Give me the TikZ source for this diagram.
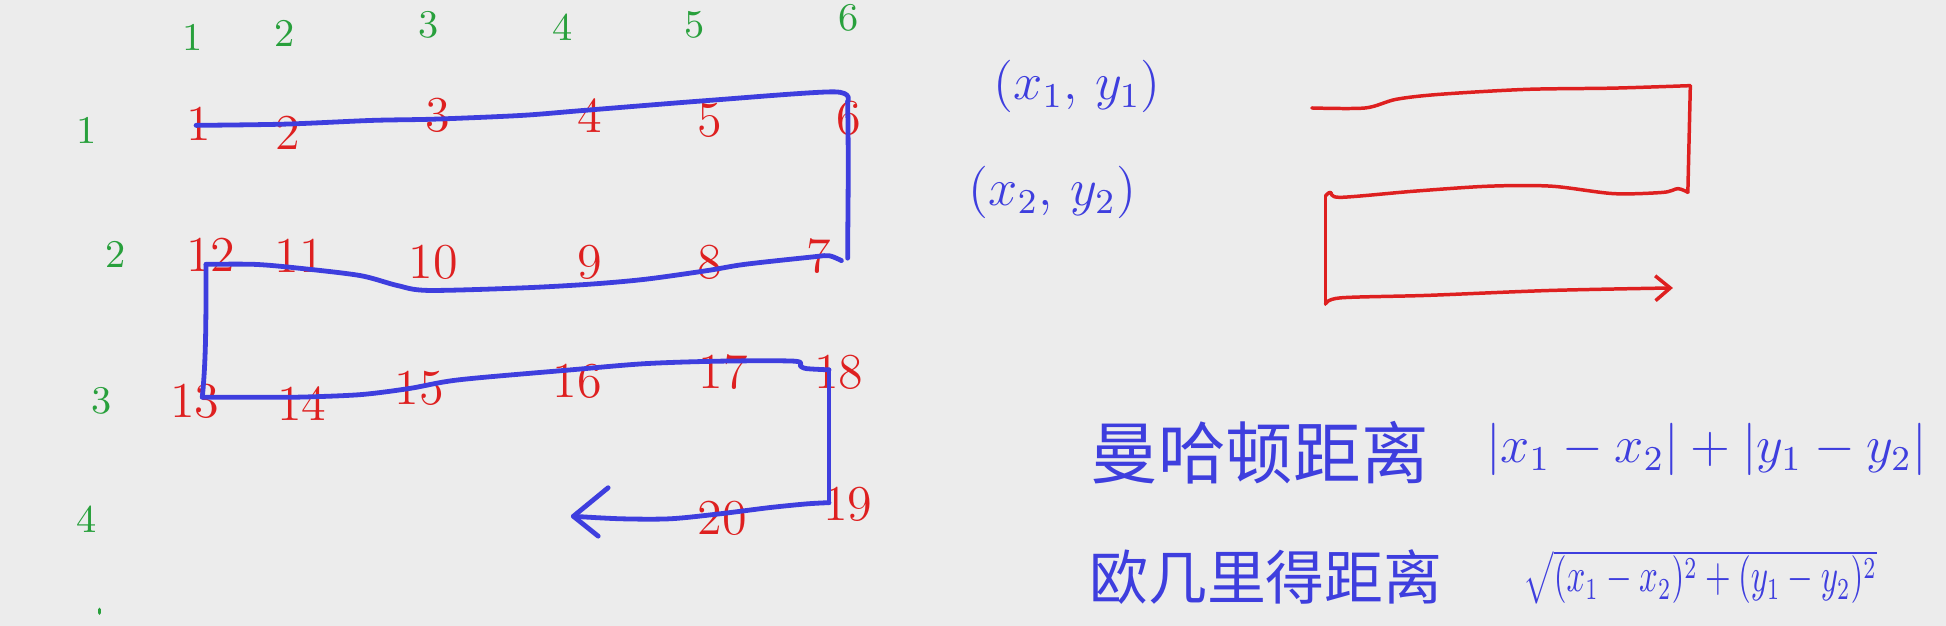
\documentclass[tikz,border=0pt]{standalone}
\usepackage{fontspec}
\usepackage{graphicx}
\newfontfamily\cjk{Noto Sans CJK SC}
\usetikzlibrary{arrows.meta}
\definecolor{bg}{RGB}{236,236,236}
\definecolor{hred}{RGB}{222,32,32}
\definecolor{hblue}{RGB}{62,62,222}
\definecolor{hgreen}{RGB}{40,160,60}
\begin{document}
\begin{tikzpicture}[x=0.1mm,y=-0.1mm,
  gnum/.style={text=hgreen,font=\fontsize{9}{10}\selectfont,inner sep=0},
  rnum/.style={text=hred,font=\fontsize{11.5}{12}\selectfont,inner sep=0},
  bpath/.style={draw=hblue,line width=1.1pt,line cap=round,line join=round},
  rpath/.style={draw=hred,line width=0.8pt,line cap=round,line join=round},
  btext/.style={text=hblue,inner sep=0}]
\fill[bg] (0,0) rectangle (1568,504);
\useasboundingbox (0,0) rectangle (1568,504);
% green headers
\node[gnum] (c1) at (155,30) {1};
\node[gnum] (c2) at (229,27) {2};
\node[gnum] (c3) at (345,20) {3};
\node[gnum] (c4) at (453,22) {4};
\node[gnum] (c5) at (560,20) {5};
\node[gnum] (c6) at (684,14) {6};
\node[gnum] (r1) at (70,105) {1};
\node[gnum] (r2) at (93,205) {2};
\node[gnum] (r3) at (82,323) {3};
\node[gnum] (r4) at (70,418) {4};
\draw[hgreen,line width=0.8pt,line cap=round] (80,491) -- (80,494);
% red numbers
\node[rnum] (n1) at (160,100) {1};
\node[rnum] (n2) at (232,107) {2};
\node[rnum] (n3) at (353,93) {3};
\node[rnum] (n4) at (475,93) {4};
\node[rnum] (n5) at (572,97) {5};
\node[rnum] (n6) at (684,95) {6};
\node[rnum] (n12) at (170,205) {12};
\node[rnum] (n11) at (241,206) {11};
\node[rnum] (n10) at (349,211) {10};
\node[rnum] (n9) at (475,211) {9};
\node[rnum] (n8) at (572,211) {8};
\node[rnum] (n7) at (660,206) {7};
\node[rnum] (n13) at (157,323) {13};
\node[rnum] (n14) at (243,325) {14};
\node[rnum] (n15) at (338,313) {15};
\node[rnum] (n16) at (465,307) {16};
\node[rnum] (n17) at (583,300) {17};
\node[rnum] (n18) at (676,300) {18};
\node[rnum] (n19) at (683,406) {19};
\node[rnum] (n20) at (582,418) {20};
% blue snake path
\coordinate (p1) at (158,101);
\coordinate (p6) at (683,82);
\coordinate (p7) at (683,208);
\coordinate (p12) at (166,213);
\coordinate (p13) at (163,320);
\coordinate (p18) at (668,298);
\coordinate (p19) at (668,405);
\coordinate (tip) at (462,416);
\draw[bpath] plot[smooth,tension=0.5] coordinates {(p1) (230,100) (300,97) (350,96) (420,93) (470,89) (570,81) (672,74) (p6)};
\draw[bpath] (p6) .. controls (684,140) and (683,180) .. (p7);
\draw[bpath] plot[smooth,tension=0.5] coordinates {(678,210) (668,206) (655,207) (600,213) (570,218) (520,225) (475,229) (420,232) (345,234) (320,230) (290,222) (240,216) (205,213) (p12)};
\draw[bpath] (p12) .. controls (166,260) and (166,290) .. (p13);
\draw[bpath] plot[smooth,tension=0.5] coordinates {(p13) (200,320) (240,320) (290,318) (330,313) (370,306) (460,298) (520,293) (580,291) (640,291) (645,295) (650,297) (p18)};
\draw[bpath] (p18) -- (p19);
\draw[bpath] plot[smooth,tension=0.5] coordinates {(p19) (650,406) (620,409) (580,414) (540,418) (500,418) (tip)};
\coordinate (hA) at (490,393);
\coordinate (hB) at (482,432);
\draw[bpath] (hA) -- (tip) -- (hB);
% coordinates text
\node[btext,font=\fontsize{12}{12}\selectfont] (pt1) at (868,70) {$(x_1,\,y_1)$};
\node[btext,font=\fontsize{12}{12}\selectfont] (pt2) at (848,155) {$(x_2,\,y_2)$};
% red snake
\coordinate (q0) at (1057,87);
\coordinate (q1) at (1362,69);
\coordinate (q2) at (1360,155);
\coordinate (q3) at (1068,158);
\coordinate (q4) at (1068,245);
\coordinate (q5) at (1348,232);
\draw[rpath] plot[smooth,tension=0.5] coordinates {(q0) (1100,87) (1125,80) (1160,76) (1230,72) (1300,71) (q1)};
\draw[rpath] (q1) -- (q2);
\draw[rpath] plot[smooth,tension=0.5] coordinates {(q2) (1352,152) (1340,155) (1300,156) (1250,150) (1200,150) (1140,154) (1080,159) (1072,155) (q3)};
\draw[rpath] (q3) -- (q4);
\draw[rpath,-{Straight Barb[length=1.2mm,width=2mm]}] plot[smooth,tension=0.5] coordinates {(q4) (1080,240) (1150,238) (1250,234) (q5)};
% formulas
\node[btext,font=\cjk\fontsize{15.5}{16}\selectfont] (man) at (1015,365) {曼哈顿距离};
\node[btext,font=\fontsize{11.5}{12}\selectfont] (manf) at (1375,362) {$|x_1 - x_2| + |y_1 - y_2|$};
\node[btext,font=\cjk\fontsize{13.5}{14}\selectfont] (euc) at (1020,465) {欧几里得距离};
\node[btext,font=\fontsize{10.5}{11}\selectfont] (eucf) at (1370,465) {\scalebox{0.69}[1]{$\sqrt{(x_1-x_2)^2+(y_1-y_2)^2}$}};
\end{tikzpicture}
\end{document}
